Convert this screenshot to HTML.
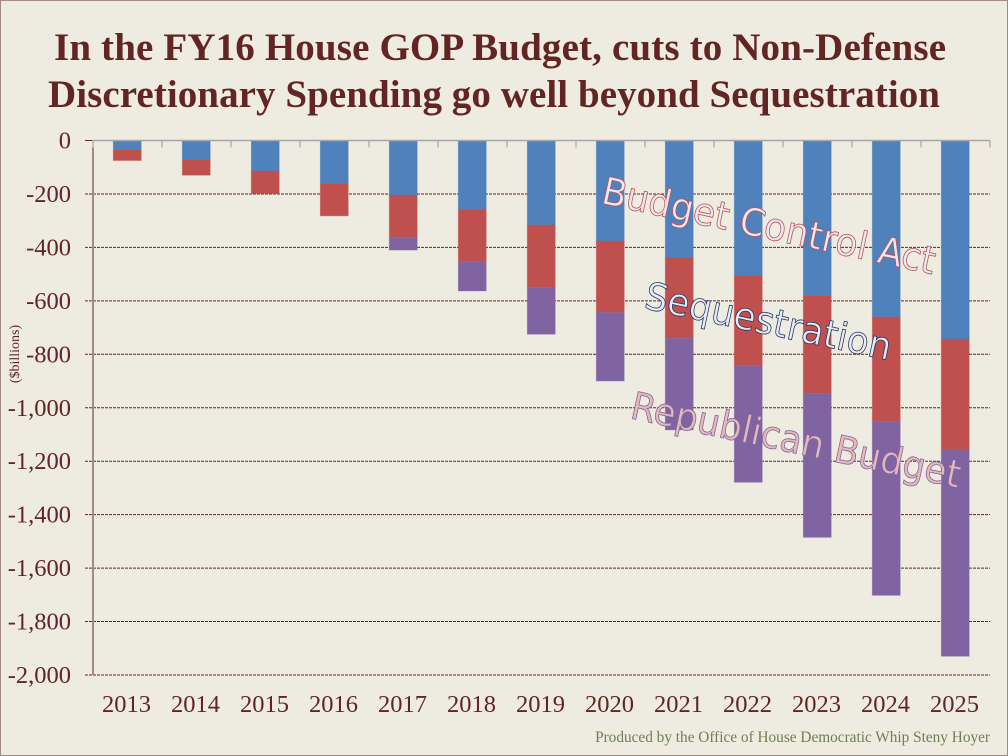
<!DOCTYPE html>
<html lang="en">
<head>
<meta charset="utf-8">
<title>FY16 House GOP Budget chart</title>
<style>
html,body{margin:0;padding:0;width:1008px;height:756px;overflow:hidden;background:#eeece1;}
svg{display:block;}
text{font-family:"Liberation Serif",serif;fill:#632523;}
.callout{font-family:"DejaVu Sans","Liberation Sans",sans-serif;}
</style>
</head>
<body>
<svg id="chart" xmlns="http://www.w3.org/2000/svg" width="1008" height="756" viewBox="0 0 1008 756">
  <rect x="0.5" y="0.5" width="1007" height="755" fill="#eeece1" stroke="#a58a85" stroke-width="1"/>
  <g>
    <text x="54" y="60" font-size="39" font-weight="bold" textLength="892" lengthAdjust="spacing">In the FY16 House GOP Budget, cuts to Non-Defense</text>
    <text x="48" y="107" font-size="39" font-weight="bold" textLength="892" lengthAdjust="spacing">Discretionary Spending go well beyond Sequestration</text>
  </g>
  <g id="grid"></g>
  <g id="bars"></g>
  <g id="axes"></g>
  <text transform="translate(19,354) rotate(-90)" font-size="14" text-anchor="middle" fill="#632523">($billions)</text>
  <text class="callout" transform="translate(600,203) rotate(12.1)" font-size="38" textLength="340" lengthAdjust="spacingAndGlyphs" style="fill:#e9e8f3;stroke:#c0504d;stroke-width:0.8;">Budget Control Act</text>
  <text class="callout" transform="translate(643,308) rotate(12)" font-size="38" textLength="251" lengthAdjust="spacingAndGlyphs" style="fill:#e9e8f3;stroke:#1f3864;stroke-width:0.8;">Sequestration</text>
  <text class="callout" transform="translate(629,418) rotate(12)" font-size="38" textLength="336" lengthAdjust="spacingAndGlyphs" style="fill:#e6b9b8;stroke:#8064a2;stroke-width:0.8;">Republican Budget</text>
  <text x="990" y="742" font-size="15.3" text-anchor="end" style="fill:#6f7f4f;">Produced by the Office of House Democratic Whip Steny Hoyer</text>
</svg>
<script>
var years = ['2013','2014','2015','2016','2017','2018','2019','2020','2021','2022','2023','2024','2025'];
var budgetControlAct = [35,73,114,160,204,257,316,376,438,507,582,660,743];
var sequestration = [40,57,85,122,158,195,233,267,302,336,364,392,415];
var republicanBudget = [0,0,0,0,48,111,176,257,343,436,539,650,772];
var yTicks = [0,-200,-400,-600,-800,-1000,-1200,-1400,-1600,-1800,-2000];
var seriesColors = ['#4f81bd','#c0504d','#8064a2'];
var seriesNames = ['budget-control-act','sequestration','republican-budget'];

var svgNS = 'http://www.w3.org/2000/svg';
var plotLeft = 93, plotRight = 990, yZero = 140.5, yBottom = 675;
var barWidth = 28;
function yScale(v){ return yZero + (0 - v) * (yBottom - yZero) / 2000; }
function xBand(i){ return (plotRight - plotLeft) / years.length; }
function xCenter(i){ return plotLeft + (i + 0.5) * xBand(i); }
function make(tag, attrs, parent){
  var el = document.createElementNS(svgNS, tag);
  for (var k in attrs) el.setAttribute(k, attrs[k]);
  parent.appendChild(el);
  return el;
}
function fmt(v){
  var s = String(Math.abs(v));
  if (s.length > 3) s = s.slice(0, s.length - 3) + ',' + s.slice(s.length - 3);
  return (v < 0 ? '-' : '') + s;
}

var gridG = document.getElementById('grid');
var barsG = document.getElementById('bars');
var axesG = document.getElementById('axes');

yTicks.forEach(function(t){
  var y = yScale(t);
  if (t !== 0) {
    var g = make('line', {x1: plotLeft - 8, x2: plotRight, y1: y, y2: y, stroke: '#632523', 'stroke-width': 1, 'stroke-dasharray': '3 1'}, gridG);
    
    
  } else {
    var g0 = make('line', {x1: plotLeft - 8, x2: plotLeft, y1: y, y2: y, stroke: '#632523', 'stroke-width': 1}, gridG);
    
    
  }
  var lab = make('text', {x: 71, y: yScale(t) + 8, 'font-size': 24.5, 'text-anchor': 'end'}, axesG);
  
  
  lab.textContent = fmt(t);
});

years.forEach(function(yr, i){
  var stacks = [budgetControlAct[i], sequestration[i], republicanBudget[i]];
  var total = 0;
  stacks.forEach(function(v, s){
    if (v <= 0) return;
    var top = yScale(-total);
    var bottom = yScale(-(total + v));
    var r = make('rect', {x: xCenter(i) - barWidth / 2 - 0.25, y: top, width: barWidth, height: bottom - top, fill: seriesColors[s], stroke: seriesColors[s], 'stroke-opacity': 0.3, 'stroke-width': 1}, barsG);
    
    
    total += v;
  });
  var lab = make('text', {x: xCenter(i) - 1, y: 712, 'font-size': 24.5, 'text-anchor': 'middle'}, axesG);
  
  
  lab.textContent = yr;
});

for (var n = 0; n <= years.length; n++) {
  var tx = plotLeft + n * xBand(n);
  var tk = make('line', {x1: tx, x2: tx, y1: yZero, y2: yZero + 7, stroke: '#b5b5ae', 'stroke-width': 1.5}, axesG);
  
  
}
var xAxis = make('line', {x1: plotLeft - 1, x2: plotRight, y1: yZero, y2: yZero, stroke: '#a6a6a6', 'stroke-width': 1.5}, axesG);


var yAxis = make('line', {x1: plotLeft, x2: plotLeft, y1: yZero + 7, y2: yBottom, stroke: '#a58a85', 'stroke-width': 2}, axesG);


</script>
</body>
</html>
